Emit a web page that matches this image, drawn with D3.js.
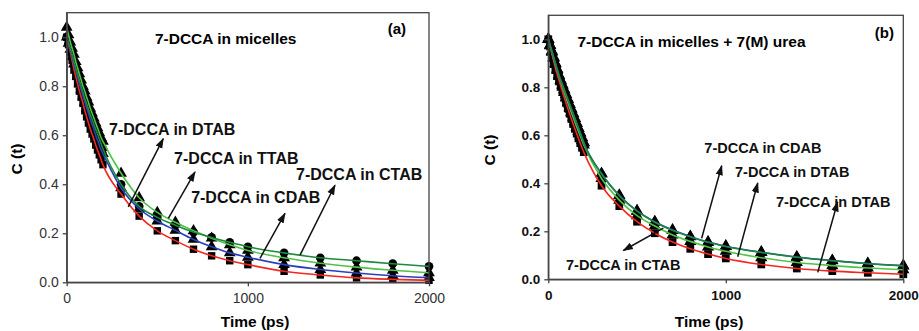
<!DOCTYPE html>
<html>
<head>
<meta charset="utf-8">
<script src="https://cdn.jsdelivr.net/npm/d3@7"></script>
<style>
  body { margin: 0; background: #fff; }
  svg { display: block; font-family: "Liberation Sans", Arial, sans-serif; }
</style>
</head>
<body>
<div id="chart"></div>
<script>
// sample times (ps): dense 0-200, then sparse
const times = [0,10,20,30,40,50,60,70,80,90,100,110,120,130,140,150,160,170,180,190,200,
  300,400,500,600,700,800,900,1000,1200,1400,1600,1800,2000];

// panel (a) : 7-DCCA in micelles
const aRed = [1.0,0.97,0.94,0.905,0.87,0.84,0.81,0.78,0.755,0.73,0.70,0.675,0.65,0.625,0.605,0.585,0.56,0.54,0.52,0.5,0.48,
  0.36,0.27,0.21,0.17,0.135,0.108,0.088,0.072,0.045,0.03,0.018,0.012,0.008];
const aBlue = [1.0,0.975,0.95,0.92,0.89,0.865,0.84,0.81,0.785,0.76,0.735,0.71,0.69,0.665,0.645,0.625,0.6,0.58,0.56,0.54,0.525,
  0.385,0.30,0.25,0.212,0.175,0.145,0.12,0.102,0.072,0.052,0.038,0.027,0.019];
const aDkGreen = [1.0,0.975,0.955,0.93,0.9,0.875,0.85,0.825,0.8,0.775,0.75,0.73,0.705,0.685,0.665,0.645,0.625,0.605,0.585,0.565,0.545,
  0.40,0.31,0.265,0.233,0.205,0.183,0.163,0.145,0.12,0.10,0.088,0.076,0.065];
const aLtGreen = [1.04,1.01,0.98,0.955,0.93,0.9,0.875,0.85,0.825,0.8,0.78,0.755,0.735,0.71,0.69,0.67,0.65,0.63,0.61,0.59,0.575,
  0.445,0.345,0.285,0.245,0.21,0.18,0.153,0.13,0.1,0.078,0.062,0.049,0.039];

// panel (b) : 7-DCCA in micelles + 7(M) urea
const bBlue = [1.0,0.975,0.95,0.925,0.9,0.875,0.85,0.83,0.81,0.79,0.77,0.75,0.73,0.71,0.69,0.67,0.65,0.63,0.61,0.59,0.57,
  0.44,0.35,0.285,0.24,0.205,0.178,0.155,0.138,0.113,0.093,0.078,0.066,0.057];
const bDkGreen = [1.0,0.975,0.95,0.925,0.9,0.875,0.85,0.83,0.81,0.79,0.77,0.75,0.73,0.71,0.69,0.67,0.65,0.63,0.61,0.59,0.569,
  0.44,0.348,0.284,0.238,0.204,0.177,0.154,0.137,0.112,0.092,0.077,0.065,0.056];
const bLtGreen = [1.0,0.973,0.946,0.92,0.895,0.87,0.845,0.823,0.8,0.778,0.757,0.736,0.715,0.695,0.675,0.655,0.635,0.616,0.597,0.578,0.56,
  0.42,0.33,0.265,0.222,0.185,0.158,0.135,0.117,0.09,0.07,0.057,0.047,0.04];
const bRed = [1.0,0.97,0.94,0.91,0.88,0.855,0.83,0.805,0.78,0.757,0.735,0.712,0.69,0.668,0.647,0.627,0.607,0.587,0.567,0.548,0.53,
  0.39,0.305,0.24,0.192,0.155,0.127,0.105,0.087,0.062,0.045,0.034,0.027,0.021];

const xTicks = [0, 1000, 2000];
const yTicks = [0, 0.2, 0.4, 0.6, 0.8, 1.0];

// annotations: [text, x, y] in data units, arrows: [x1,y1,x2,y2] tail -> head
const aLabels = [["7-DCCA in DTAB", 234, 0.60], ["7-DCCA in TTAB", 593, 0.482],
  ["7-DCCA in CTAB", 1266, 0.417], ["7-DCCA in CDAB", 687, 0.323]];
const aArrows = [[340,0.308,533,0.586], [561,0.261,708,0.45], [1067,0.098,1205,0.281], [1288,0.111,1481,0.396]];
const bLabels = [["7-DCCA in CDAB", 879, 0.528], ["7-DCCA in DTAB", 1052, 0.428],
  ["7-DCCA in DTAB", 1283, 0.302], ["7-DCCA in CTAB", 100, 0.037]];
const bArrows = [[864,0.171,977,0.473], [1067,0.094,1180,0.401], [1518,0.029,1630,0.322], [648,0.213,423,0.12]];

const colors = {red: "#f5251f", blue: "#2b3fb8", dk: "#1b8a3c", lt: "#4fc248"};

const svg = d3.select("#chart").append("svg")
  .attr("width", 919).attr("height", 331);

svg.append("defs").append("marker")
  .attr("id", "ah").attr("viewBox", "0 0 10 10")
  .attr("refX", 9).attr("refY", 5)
  .attr("markerWidth", 7).attr("markerHeight", 7)
  .attr("orient", "auto")
  .append("path").attr("d", "M0,1.5L10,5L0,8.5Z").attr("fill", "#111");

function drawPanel(p) {
  let x = d3.scaleLinear().domain([0, 2000]).range([p.left, p.right]);
  let y = d3.scaleLinear().domain([0, 1.1]).range([p.bottom, p.top]);
  let g = svg.append("g");

  // markers
  p.series.forEach(function(s) {
    let sym = d3.symbol().type(s.shape).size(s.size);
    g.append("g").selectAll("path")
      .data(times.map(function(t, i) { return [t, s.values[i]]; }))
      .enter().append("path")
      .attr("transform", function(d) { return "translate(" + x(d[0]) + "," + y(d[1]) + ")"; })
      .attr("d", sym)
      .attr("fill", "#000");
  });

  // fit curves
  let line = d3.line().x(function(d) { return x(d[0]); }).y(function(d) { return y(d[1]); })
    .curve(d3.curveMonotoneX);
  p.series.forEach(function(s) {
    g.append("path")
      .datum(times.map(function(t, i) { return [t, s.values[i]]; }))
      .attr("d", line)
      .attr("fill", "none")
      .attr("stroke", s.color)
      .attr("stroke-width", 1.6);
  });

  // frame
  g.append("rect")
    .attr("x", p.left).attr("y", p.top)
    .attr("width", p.right - p.left).attr("height", p.bottom - p.top)
    .attr("fill", "none").attr("stroke", "#444").attr("stroke-width", 1.3);

  let yAxis = g.append("g")
    .attr("transform", "translate(" + p.left + ",0)")
    .call(d3.axisLeft(y).tickValues(yTicks).tickFormat(d3.format(".1f")).tickSize(4).tickSizeOuter(0).tickPadding(4));
  let xAxis = g.append("g")
    .attr("transform", "translate(0," + p.bottom + ")")
    .call(d3.axisBottom(x).tickValues(xTicks).tickFormat(d3.format("d")).tickSize(4).tickSizeOuter(0).tickPadding(7));
  [yAxis, xAxis].forEach(function(ax) {
    ax.select(".domain").attr("stroke", "#444").attr("stroke-width", 1.3);
    ax.selectAll("line").attr("stroke", "#444").attr("stroke-width", 1.3);
    ax.selectAll("text")
      .style("font-family", "Liberation Sans, Arial, sans-serif")
      .style("font-size", p.tickSize)
      .style("font-weight", p.tickBold ? "bold" : "normal")
      .attr("fill", p.tickBold ? "#111" : "#333");
  });

  // axis titles
  g.append("text")
    .attr("x", p.xTitleX).attr("y", 327)
    .attr("text-anchor", "middle")
    .style("font-size", "15.5px").style("font-weight", "bold")
    .text("Time (ps)");
  g.append("text")
    .attr("transform", "translate(" + p.yTitleX + "," + p.yTitleY + ") rotate(-90)")
    .attr("text-anchor", "middle")
    .style("font-size", "15.5px").style("font-weight", "bold")
    .text("C (t)");

  // title + panel letter
  g.append("text")
    .attr("x", x(p.title[1])).attr("y", y(p.title[2]))
    .style("font-size", "15.5px").style("font-weight", "bold")
    .text(p.title[0]);
  g.append("text")
    .attr("x", x(p.letter[1])).attr("y", y(p.letter[2]))
    .style("font-size", "15px").style("font-weight", "bold")
    .text(p.letter[0]);

  // annotations
  g.selectAll(".lab").data(p.labels).enter().append("text")
    .attr("x", function(d) { return x(d[1]); })
    .attr("y", function(d) { return y(d[2]); })
    .style("font-size", p.labelSize).style("font-weight", "bold")
    .attr("fill", "#111")
    .text(function(d) { return d[0]; });
  g.selectAll(".arr").data(p.arrows).enter().append("line")
    .attr("x1", function(d) { return x(d[0]); })
    .attr("y1", function(d) { return y(d[1]); })
    .attr("x2", function(d) { return x(d[2]); })
    .attr("y2", function(d) { return y(d[3]); })
    .attr("stroke", "#111").attr("stroke-width", 1.5)
    .attr("marker-end", "url(#ah)");
}

drawPanel({
  left: 66.7, right: 429, top: 12.7, bottom: 282.3,
  tickBold: false, tickSize: "14px", xTitleX: 255, yTitleX: 22, yTitleY: 159,
  title: ["7-DCCA in micelles", 487, 0.974], letter: ["(a)", 1772, 1.013],
  labels: aLabels, arrows: aArrows, labelSize: "16px",
  series: [
    {values: aRed, color: colors.red, shape: d3.symbolSquare, size: 55},
    {values: aBlue, color: colors.blue, shape: d3.symbolTriangle, size: 60},
    {values: aLtGreen, color: colors.lt, shape: d3.symbolTriangle, size: 60},
    {values: aDkGreen, color: colors.dk, shape: d3.symbolCircle, size: 60}
  ]
});

drawPanel({
  left: 548.3, right: 903.3, top: 15.3, bottom: 279.3,
  tickBold: true, tickSize: "13.5px", xTitleX: 709, yTitleX: 495, yTitleY: 150,
  title: ["7-DCCA in micelles + 7(M) urea", 164, 0.967], letter: ["(b)", 1839, 1.007],
  labels: bLabels, arrows: bArrows, labelSize: "14.5px",
  series: [
    {values: bRed, color: colors.red, shape: d3.symbolSquare, size: 60},
    {values: bLtGreen, color: colors.lt, shape: d3.symbolTriangle, size: 65},
    {values: bBlue, color: colors.blue, shape: d3.symbolTriangle, size: 65},
    {values: bDkGreen, color: colors.dk, shape: d3.symbolTriangle, size: 65}
  ]
});
</script>
</body>
</html>
